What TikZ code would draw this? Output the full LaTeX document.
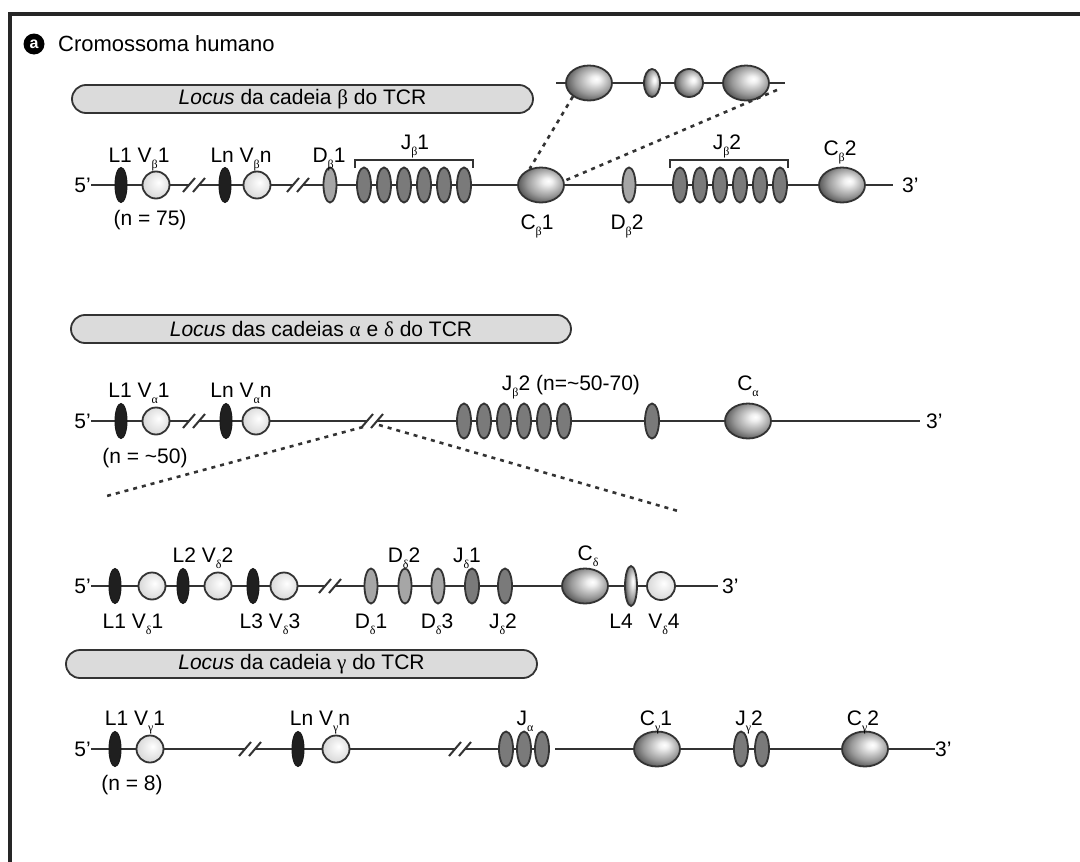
\documentclass[tikz,border=0pt]{standalone}
\usepackage{fontspec}
\setmainfont{Liberation Sans}
\newfontfamily\grk{Liberation Serif}
\usetikzlibrary{shapes.geometric,calc,backgrounds}
\definecolor{lin}{HTML}{333333}
\pgfdeclareradialshading{cball}{\pgfpoint{8bp}{6bp}}{color(0bp)=(white); color(5bp)=(black!6); color(20bp)=(black!40); color(32bp)=(black!75); color(50bp)=(black!85)}
\pgfdeclareradialshading{vball}{\pgfpoint{5bp}{5bp}}{color(0bp)=(white); color(25bp)=(black!14); color(50bp)=(black!20)}
\newcommand\gs[1]{\raisebox{-5.5pt}{\fontsize{12}{12}\selectfont\grk #1}}
\newcommand\brkm[3]{%
  \coordinate (#1L) at ({#2-5},#3);
  \coordinate (#1R) at ({#2+5},#3);
  \draw[slash] ({#2-11},{#3+7}) -- ({#2+1},{#3-7});
  \draw[slash] ({#2-1},{#3+7}) -- ({#2+11},{#3-7});
}
\begin{document}
\begin{tikzpicture}[x=1pt,y=-1pt,
  lbl/.style={anchor=base, inner sep=0pt, font=\fontsize{21}{25}\selectfont},
  endlbl/.style={inner sep=0pt, font=\fontsize{21}{25}\selectfont},
  chrom/.style={draw=lin, line width=2.6pt},
  slash/.style={draw=lin, line width=2pt},
  dotl/.style={draw=lin, line width=2.6pt, dash pattern=on 4pt off 5pt},
  blk/.style={ellipse, draw=black!90, fill=black!88, line width=1pt, minimum width=12pt, minimum height=35pt, inner sep=0pt},
  vc/.style={circle, draw=lin, line width=1.8pt, shade, shading=vball, minimum size=27pt, inner sep=0pt},
  dseg/.style={ellipse, draw=lin, fill=black!35, line width=1.8pt, minimum width=13pt, minimum height=35pt, inner sep=0pt},
  jseg/.style={ellipse, draw=lin, fill=black!52, line width=1.8pt, minimum width=14pt, minimum height=35pt, inner sep=0pt},
  cseg/.style={ellipse, draw=lin, shade, shading=cball, line width=1.8pt, minimum width=46pt, minimum height=35pt, inner sep=0pt},
  pill/.style={draw=black!80, fill=black!14, line width=1.8pt, rounded corners=14pt, minimum height=28pt, inner sep=0pt, font=\fontsize{21}{25}\selectfont},
  bracketl/.style={draw=lin, line width=2pt},
]
\useasboundingbox (0,0) rectangle (1080,862);
\begin{pgfonlayer}{background}
\fill[white] (0,0) rectangle (1080,862);
\end{pgfonlayer}
% frame
\draw[line width=4pt, black!85] (8,14) -- (1080,14);
\draw[line width=4pt, black!85] (10,12) -- (10,862);
% header
\node[circle, fill=black, minimum size=21pt, inner sep=0pt, text=white, font=\bfseries\fontsize{16}{16}\selectfont] (hA) at (34,44) {a};
\node[anchor=west, inner sep=0pt, font=\fontsize{22}{26}\selectfont] (hT) at (58,44) {Cromossoma humano};

% ===== beta locus =====
\node[pill, minimum width=461pt] (pB) at (302.5,99) {\textit{Locus} da cadeia {\grk β} do TCR};
\node[endlbl, anchor=east] (b5) at (91,185) {5’};
\node[endlbl, anchor=west] (b3) at (902,185) {3’};
\coordinate (b3e) at (893,185);
\node[blk] (bL1) at (121,185) {};
\node[vc] (bV1) at (156,185) {};
\brkm{bk1}{194}{185}
\node[blk] (bLn) at (225,185) {};
\node[vc] (bVn) at (257,185) {};
\brkm{bk2}{298}{185}
\node[dseg] (bD1) at (330,185) {};
\foreach \i/\x in {1/364,2/384,3/404,4/424,5/444,6/464}
  \node[jseg] (bJa\i) at (\x,185) {};
\node[cseg] (bC1) at (541,185) {};
\node[dseg] (bD2) at (629,185) {};
\foreach \i/\x in {1/680,2/700,3/720,4/740,5/760,6/780}
  \node[jseg] (bJb\i) at (\x,185) {};
\node[cseg] (bC2) at (842,185) {};
\draw[bracketl] (355,168) -- (355,160) -- (473,160) -- (473,168);
\draw[bracketl] (670,168) -- (670,160) -- (788,160) -- (788,168);
\node[lbl] (tbL1) at (139,162.5) {L1 V\gs{β}1};
\node[lbl] (tbLn) at (241,162.5) {Ln V\gs{β}n};
\node[lbl] (tbD1) at (329,162.5) {D\gs{β}1};
\node[lbl] (tbJ1) at (415,149.5) {J\gs{β}1};
\node[lbl] (tbJ2) at (727,149.5) {J\gs{β}2};
\node[lbl] (tbC2) at (840,155.5) {C\gs{β}2};
\node[lbl] (tbn) at (150,225.5) {(n = 75)};
\node[lbl] (tbC1) at (537,229.5) {C\gs{β}1};
\node[lbl] (tbD2) at (627,229.5) {D\gs{β}2};
% inset
\coordinate (insL) at (556,83);
\coordinate (insR) at (785,83);
\node[cseg] (iC1) at (589,83) {};
\node[ellipse, draw=lin, shade, shading=cball, line width=1.8pt, minimum width=16pt, minimum height=28pt, inner sep=0pt] (iS) at (652,83) {};
\node[circle, draw=lin, shade, shading=cball, line width=1.8pt, minimum size=28pt, inner sep=0pt] (iM) at (689,83) {};
\node[cseg] (iC2) at (746,83) {};
\coordinate (insD) at (777,90);
\draw[dotl] (iC1.220) -- (bC1.125);
\draw[dotl] (insD) -- (bC1.10);

% ===== alpha/delta locus =====
\node[pill, minimum width=500pt] (pA) at (321,329) {\textit{Locus} das cadeias {\grk α} e {\grk δ} do TCR};
\node[endlbl, anchor=east] (a5) at (91,421) {5’};
\node[endlbl, anchor=west] (a3) at (926,421) {3’};
\coordinate (a3e) at (920,421);
\node[blk] (aL1) at (121,421) {};
\node[vc] (aV1) at (156,421) {};
\brkm{ak1}{194}{421}
\node[blk] (aLn) at (226,421) {};
\node[vc] (aVn) at (256,421) {};
\brkm{ak2}{372}{421}
\foreach \i/\x in {1/464,2/484,3/504,4/524,5/544,6/564}
  \node[jseg] (aJ\i) at (\x,421) {};
\node[jseg] (aJs) at (652,421) {};
\node[cseg] (aC) at (748,421) {};
\node[lbl] (taL1) at (139,397.5) {L1 V\gs{α}1};
\node[lbl] (taLn) at (241,397.5) {Ln V\gs{α}n};
\node[lbl] (taJ) at (571,390.5) {J\gs{β}2 (n=\textasciitilde50-70)};
\node[lbl] (taC) at (748,390.5) {C\gs{α}};
\node[lbl] (tan) at (145,463) {(n = \textasciitilde50)};
\coordinate (dLe) at (103,497);
\coordinate (dRe) at (678,511);
\draw[dotl] ($(ak2L)+(-4,6)$) -- (dLe);
\draw[dotl] ($(ak2R)+(2,4)$) -- (dRe);

% delta
\node[endlbl, anchor=east] (d5) at (91,586) {5’};
\node[endlbl, anchor=west] (d3) at (722,586) {3’};
\coordinate (d3e) at (718,586);
\node[blk] (dL1) at (115,586) {};
\node[vc] (dV1) at (152,586) {};
\node[blk] (dL2) at (183,586) {};
\node[vc] (dV2) at (218,586) {};
\node[blk] (dL3) at (253,586) {};
\node[vc] (dV3) at (284,586) {};
\brkm{dk}{330}{586}
\node[dseg] (dD1) at (371,586) {};
\node[dseg] (dD2) at (405,586) {};
\node[dseg] (dD3) at (438,586) {};
\node[jseg] (dJ1) at (472,586) {};
\node[jseg] (dJ2) at (505,586) {};
\node[cseg] (dC) at (585,586) {};
\node[ellipse, draw=lin, shade, shading=cball, line width=1.8pt, minimum width=12pt, minimum height=40pt, inner sep=0pt] (dL4) at (631,586) {};
\node[vc, minimum size=28pt] (dV4) at (661,586) {};
\node[lbl] (tdL2) at (203,562.5) {L2 V\gs{δ}2};
\node[lbl] (tdD2) at (404,562.5) {D\gs{δ}2};
\node[lbl] (tdJ1) at (467,562.5) {J\gs{δ}1};
\node[lbl] (tdC) at (588,560.5) {C\gs{δ}};
\node[lbl] (tdL1) at (133,628.5) {L1 V\gs{δ}1};
\node[lbl] (tdL3) at (270,628.5) {L3 V\gs{δ}3};
\node[lbl] (tdD1) at (371,628.5) {D\gs{δ}1};
\node[lbl] (tdD3) at (437,628.5) {D\gs{δ}3};
\node[lbl] (tdJ2) at (503,628.5) {J\gs{δ}2};
\node[lbl] (tdL4) at (621,628.5) {L4};
\node[lbl] (tdV4) at (664,628.5) {V\gs{δ}4};

% ===== gamma locus =====
\node[pill, minimum width=471pt] (pG) at (301.5,664) {\textit{Locus} da cadeia {\grk γ} do TCR};
\node[endlbl, anchor=east] (g5) at (91,749) {5’};
\node[endlbl, anchor=west] (g3) at (935,749) {3’};
\node[blk] (gL1) at (115,749) {};
\node[vc] (gV1) at (150,749) {};
\brkm{gk1}{250}{749}
\node[blk] (gLn) at (298,749) {};
\node[vc] (gVn) at (336,749) {};
\brkm{gk2}{460}{749}
\node[jseg] (gJ1) at (506,749) {};
\node[jseg] (gJ2) at (524,749) {};
\node[jseg] (gJ3) at (542,749) {};
\coordinate (gres) at (555,749);
\node[cseg] (gC1) at (657,749) {};
\node[jseg] (gJb1) at (741,749) {};
\node[jseg] (gJb2) at (762,749) {};
\node[cseg] (gC2) at (865,749) {};
\node[lbl] (tgL1) at (135,725.5) {L1 V\gs{γ}1};
\node[lbl] (tgLn) at (320,725.5) {Ln V\gs{γ}n};
\node[lbl] (tgJ) at (525,725.5) {J\gs{α}};
\node[lbl] (tgC1) at (656,725.5) {C\gs{γ}1};
\node[lbl] (tgJ2) at (749,725.5) {J\gs{γ}2};
\node[lbl] (tgC2) at (863,725.5) {C\gs{γ}2};
\node[lbl] (tgn) at (132,790) {(n = 8)};

% chromosome lines
\begin{pgfonlayer}{background}
\draw[chrom] (b5.east) -- (bk1L);
\draw[chrom] (bk1R) -- (bk2L);
\draw[chrom] (bk2R) -- (b3e);
\draw[chrom] (insL) -- (insR);
\draw[chrom] (a5.east) -- (ak1L);
\draw[chrom] (ak1R) -- (ak2L);
\draw[chrom] (ak2R) -- (a3e);
\draw[chrom] (d5.east) -- (dkL);
\draw[chrom] (dkR) -- (d3e);
\draw[chrom] (g5.east) -- (gk1L);
\draw[chrom] (gk1R) -- (gk2L);
\draw[chrom] (gk2R) -- (gJ3);
\draw[chrom] (gres) -- (g3.west);
\end{pgfonlayer}
\end{tikzpicture}
\end{document}
